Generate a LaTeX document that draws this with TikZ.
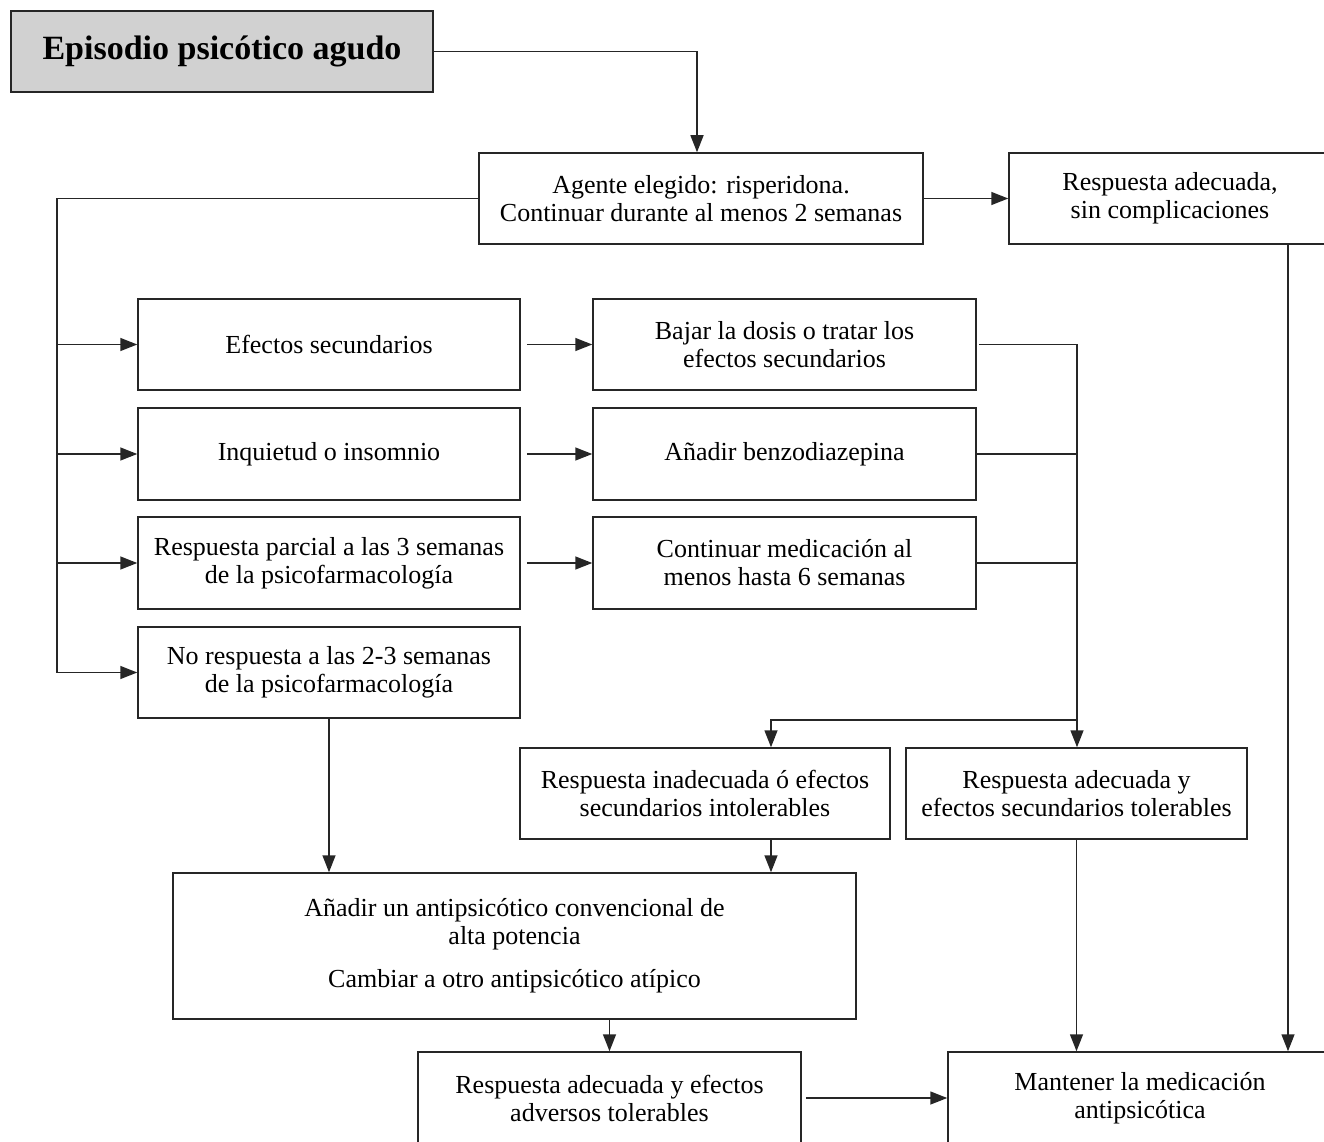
\documentclass[tikz,border=0pt]{standalone}
\usepackage{fontspec}
\setmainfont{Liberation Serif}
\usetikzlibrary{arrows.meta, positioning, calc}

\tikzset{
  caja/.style={draw=black!85, line width=1.5pt, inner sep=0pt, align=center,
    font=\fontsize{26}{28}\selectfont},
  titulo/.style={caja, fill=black!18, font=\fontsize{34}{36}\selectfont\bfseries},
  flecha/.style={draw=black!85, line width=1.5pt, -{Triangle[length=17pt,width=13pt]}},
  linea/.style={draw=black!85, line width=1.5pt}
}

\begin{document}
\begin{tikzpicture}[x=1pt,y=-1pt]
    \useasboundingbox (0,0) rectangle (1324,1142);
    % cajas
    \node[titulo, minimum width=422pt, minimum height=81pt] (episodio) at (222,51.5) {Episodio psicótico agudo};
    \node[caja, minimum width=444pt, minimum height=91pt] (agente) at (701,198.5) {Agente elegido: risperidona.\\Continuar durante al menos 2 semanas};
    \node[caja, minimum width=322pt, minimum height=91pt] (sincomp) at (1170,198.5) {Respuesta adecuada,\\sin complicaciones};
    \node[caja, minimum width=382pt, minimum height=91pt] (efectos) at (329,344.5) {Efectos secundarios};
    \node[caja, minimum width=383pt, minimum height=91pt] (bajar) at (784.5,344.5) {Bajar la dosis o tratar los\\efectos secundarios};
    \node[caja, minimum width=382pt, minimum height=92pt] (inquietud) at (329,454) {Inquietud o insomnio};
    \node[caja, minimum width=383pt, minimum height=92pt] (benzo) at (784.5,454) {Añadir benzodiazepina};
    \node[caja, minimum width=382pt, minimum height=92pt] (parcial) at (329,563) {Respuesta parcial a las 3 semanas\\de la psicofarmacología};
    \node[caja, minimum width=383pt, minimum height=92pt] (continuar) at (784.5,563) {Continuar medicación al\\menos hasta 6 semanas};
    \node[caja, minimum width=382pt, minimum height=91pt] (norespuesta) at (329,672.5) {No respuesta a las 2-3 semanas\\de la psicofarmacología};
    \node[caja, minimum width=370pt, minimum height=91pt] (inadecuada) at (705,793.5) {Respuesta inadecuada ó efectos\\secundarios intolerables};
    \node[caja, minimum width=341pt, minimum height=91pt] (tolerables) at (1076.5,793.5) {Respuesta adecuada y\\efectos secundarios tolerables};
    \node[caja, minimum width=683pt, minimum height=146pt] (anadir) at (514.5,946) {Añadir un antipsicótico convencional de\\alta potencia\\[15pt]Cambiar a otro antipsicótico atípico};
    \node[caja, minimum width=383pt, minimum height=92pt] (adversos) at (609.5,1098) {Respuesta adecuada y efectos\\adversos tolerables};
    \node[caja, minimum width=384pt, minimum height=92pt] (mantener) at (1140,1098) {Mantener la medicación\\antipsicótica};
    % conectores
    \coordinate (izq) at (57,672.5);
    \coordinate (der) at (1077,720);
    \coordinate (baja) at ([xshift=66pt]inadecuada.south);
    \coordinate (sube) at ([xshift=66pt]inadecuada.north);
    \coordinate (lado) at ([xshift=118pt]sincomp.south);
    \draw[flecha] (episodio.east) -| (agente.north -| 697,0);
    \draw[flecha] (agente.east) -- (sincomp.west);
    \draw[flecha] (agente.west) -| (izq) -- (norespuesta.west);
    \foreach \n in {efectos,inquietud,parcial}
      \draw[flecha] (izq |- \n.west) -- (\n.west);
    \draw[flecha, shorten <=6pt] (efectos.east) -- (bajar.west);
    \draw[flecha, shorten <=6pt] (inquietud.east) -- (benzo.west);
    \draw[flecha, shorten <=6pt] (parcial.east) -- (continuar.west);
    \draw[linea] ([xshift=2pt]bajar.east) -| (der);
    \foreach \n in {benzo,continuar}
      \draw[linea] (\n.east) -- (\n.east -| der);
    \draw[flecha] (der) -- (tolerables.north -| der);
    \draw[flecha] (der) -| (sube);
    \draw[flecha] (baja) -- (anadir.north -| baja);
    \draw[flecha] (norespuesta.south) -- (norespuesta.south |- anadir.north);
    \draw[flecha] (adversos.north |- anadir.south) -- (adversos.north);
    \draw[flecha] (tolerables.south) -- (tolerables.south |- mantener.north);
    \draw[flecha] (lado) -- (mantener.north -| lado);
    \draw[flecha, shorten <=4pt] (adversos.east) -- (mantener.west);
\end{tikzpicture}
\end{document}
